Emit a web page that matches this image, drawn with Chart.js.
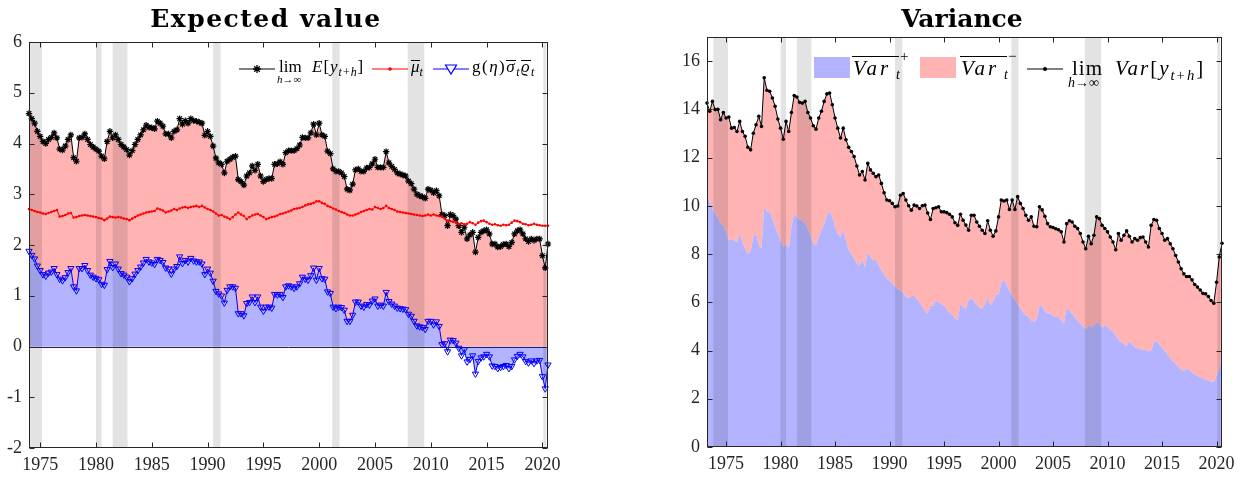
<!DOCTYPE html>
<html>
<head>
<meta charset="utf-8">
<title>Expected value and variance</title>
<script src="https://cdn.jsdelivr.net/npm/chart.js@4.4.1/dist/chart.umd.min.js"></script>
<style>
  body { margin: 0; background: #fff; }
  #wrap { position: relative; width: 1245px; height: 477px; overflow: hidden; font-family: 'Liberation Serif', 'Times New Roman', serif; color: #000; }
  canvas { position: absolute; top: 0; }
  .title { position: absolute; top: 6px; font-family: 'DejaVu Serif', serif; font-weight: bold; font-size: 25px; line-height: 1; transform: translateX(-50%); white-space: nowrap; }
  .t { position: absolute; white-space: nowrap; line-height: 1; }
  .t sub { font-size: 0.7em; vertical-align: -0.35em; line-height: 0; }
  .ob { display: inline-block; line-height: 0.55; border-top: 1px solid #000; padding-top: 1px; }
  .sym { position: absolute; overflow: visible; }
  .sw { position: absolute; width: 36px; height: 21px; top: 57px; }
  .ov { position: absolute; height: 1px; top: 56px; background: #000; }
</style>
</head>
<body>
<div id="wrap">
  <canvas id="leftChart" width="600" height="477" style="left:0"></canvas>
  <canvas id="rightChart" width="605" height="477" style="left:640px"></canvas>

  <div class="title" style="left:266px;letter-spacing:1.5px">Expected value</div>
  <div class="title" style="left:962px">Variance</div>

  <!-- legend, left panel -->
  <svg class="sym" style="left:239px;top:62px" width="36" height="14">
    <line x1="0" y1="7" x2="36" y2="7" stroke="#000" stroke-width="1"/>
    <path d="M18 3V11M14 7H22M15.2 4.2L20.8 9.8M20.8 4.2L15.2 9.8" stroke="#000" stroke-width="1.3"/>
  </svg>
  <div class="t" style="left:279px;top:58px;font-size:17px">lim</div>
  <div class="t" style="left:277px;top:74px;font-size:11px"><i>h</i>→∞</div>
  <div class="t" style="left:312px;top:58px;font-size:17px;letter-spacing:1px"><i>E</i>[<i>y</i><sub><i>t</i>+<i>h</i></sub>]</div>
  <svg class="sym" style="left:372px;top:62px" width="36" height="14">
    <line x1="0" y1="7" x2="36" y2="7" stroke="#f00" stroke-width="1"/>
    <circle cx="18" cy="7" r="1.8" fill="#f00"/>
  </svg>
  <div class="t" style="left:411px;top:58px;font-size:17px"><i class="ob">μ</i><sub><i>t</i></sub></div>
  <svg class="sym" style="left:433px;top:62px" width="36" height="14">
    <line x1="0" y1="7" x2="36" y2="7" stroke="#00f" stroke-width="1"/>
    <path d="M12.5 3L23.5 3L18 12Z" fill="#fff" stroke="#00f" stroke-width="1.2"/>
  </svg>
  <div class="t" style="left:472px;top:58px;font-size:17px;letter-spacing:1.5px">g(<i>η</i>)<i class="ob">σ</i><sub><i>t</i></sub><i class="ob">ϱ</i><sub><i>t</i></sub></div>

  <!-- legend, right panel -->
  <div class="sw" style="left:814px;background:#b3b3ff"></div>
  <div class="ov" style="left:852px;width:47px"></div>
  <div class="t" style="left:853px;top:58px;font-size:21px;letter-spacing:3px"><i>Var</i></div>
  <div class="t" style="left:896px;top:68px;font-size:14px"><i>t</i></div>
  <div class="t" style="left:900px;top:49px;font-size:15px">+</div>
  <div class="sw" style="left:920px;background:#ffb3b3"></div>
  <div class="ov" style="left:960px;width:47px"></div>
  <div class="t" style="left:961px;top:58px;font-size:21px;letter-spacing:3px"><i>Var</i></div>
  <div class="t" style="left:1004px;top:68px;font-size:14px"><i>t</i></div>
  <div class="t" style="left:1008px;top:49px;font-size:15px">−</div>
  <svg class="sym" style="left:1027px;top:62px" width="36" height="14">
    <line x1="0" y1="7" x2="36" y2="7" stroke="#000" stroke-width="1"/>
    <circle cx="18" cy="7" r="2" fill="#000"/>
  </svg>
  <div class="t" style="left:1072px;top:58px;font-size:21px;letter-spacing:1px">lim</div>
  <div class="t" style="left:1068px;top:76px;font-size:14px"><i>h</i>→∞</div>
  <div class="t" style="left:1115px;top:58px;font-size:21px;letter-spacing:2px"><i>Var</i>[<i>y</i><sub><i>t</i>+<i>h</i></sub>]</div>
</div>

<script>
const quarter = 0.25;
const leftStart = 1974;      // first quarter of the left panel
const rightStart = 1973.25;  // first quarter of the right panel

// NBER recessions (shaded)
const recessions = [
  [1973.83, 1975.17], [1980.0, 1980.5], [1981.5, 1982.83], [1990.5, 1991.17],
  [2001.17, 2001.83], [2007.92, 2009.42], [2020.08, 2020.33]
];

const yearTicks = [1975, 1980, 1985, 1990, 1995, 2000, 2005, 2010, 2015, 2020];
const leftYTicks = [-2, -1, 0, 1, 2, 3, 4, 5, 6];
const rightYTicks = [0, 2, 4, 6, 8, 10, 12, 14, 16];

// Expected value panel (quarterly, 1974Q1 - 2020Q3)
const leftLimE = [
  4.59, 4.49, 4.40, 4.24,  4.14, 4.04, 4.00, 4.08,  4.12, 4.21, 4.11, 3.89,  3.87, 3.95, 4.08, 4.17,
  3.72, 3.65, 4.11, 4.12,  4.19, 4.08, 3.98, 3.93,  3.89, 3.85, 3.75, 3.70,  4.04, 4.24, 4.11, 4.17,
  4.08, 3.98, 3.93, 3.88,  3.77, 3.86, 3.98, 4.08,  4.17, 4.27, 4.36, 4.32,  4.31, 4.29, 4.44, 4.40,
  4.34, 4.19, 4.19, 4.11,  4.24, 4.27, 4.49, 4.38,  4.45, 4.40, 4.49, 4.45,  4.44, 4.42, 4.40, 4.16,
  4.24, 4.14, 3.95, 3.71,  3.62, 3.59, 3.42, 3.65,  3.69, 3.73, 3.75, 3.29,  3.25, 3.18, 3.36, 3.42,
  3.56, 3.47, 3.59, 3.36,  3.25, 3.29, 3.31, 3.31,  3.59, 3.60, 3.64, 3.59,  3.82, 3.86, 3.86, 3.86,
  3.90, 3.97, 4.12, 4.11,  4.11, 4.21, 4.38, 4.17,  4.40, 4.17, 4.14, 3.85,  3.80, 3.50, 3.45, 3.45,
  3.42, 3.35, 3.10, 3.08,  3.20, 3.48, 3.50, 3.45,  3.45, 3.52, 3.53, 3.60,  3.69, 3.53, 3.53, 3.53,
  3.84, 3.62, 3.55, 3.49,  3.42, 3.40, 3.38, 3.36,  3.26, 3.21, 3.10, 3.00,  2.97, 2.95, 2.92, 3.10,
  3.08, 3.03, 3.07, 2.97,  2.60, 2.58, 2.38, 2.60,  2.58, 2.51, 2.38, 2.25,  2.35, 2.12, 2.20, 2.25,
  1.86, 2.15, 2.25, 2.28,  2.30, 2.22, 2.02, 2.02,  1.96, 1.97, 2.01, 2.02,  1.97, 2.05, 2.22, 2.28,
  2.30, 2.22, 2.12, 2.07,  2.12, 2.09, 2.12, 2.12,  1.79, 1.55, 2.02
];
const leftMuBar = [
  2.71, 2.69, 2.67, 2.65,  2.64, 2.62, 2.61, 2.63,  2.65, 2.67, 2.69, 2.56,  2.57, 2.59, 2.62, 2.63,
  2.54, 2.55, 2.57, 2.58,  2.59, 2.58, 2.57, 2.56,  2.55, 2.53, 2.52, 2.49,  2.52, 2.56, 2.55, 2.54,
  2.55, 2.54, 2.52, 2.51,  2.49, 2.52, 2.55, 2.58,  2.60, 2.62, 2.64, 2.65,  2.66, 2.67, 2.72, 2.70,
  2.68, 2.64, 2.66, 2.68,  2.71, 2.69, 2.72, 2.74,  2.75, 2.73, 2.75, 2.76,  2.77, 2.75, 2.77, 2.74,
  2.71, 2.69, 2.66, 2.62,  2.58, 2.59, 2.56, 2.54,  2.51, 2.55, 2.60, 2.64,  2.60, 2.57, 2.51, 2.55,
  2.58, 2.60, 2.61, 2.58,  2.55, 2.51, 2.53, 2.55,  2.56, 2.58, 2.61, 2.62,  2.64, 2.66, 2.68, 2.71,
  2.72, 2.73, 2.75, 2.78,  2.80, 2.81, 2.83, 2.86,  2.86, 2.83, 2.81, 2.77,  2.75, 2.72, 2.70, 2.67,
  2.65, 2.63, 2.60, 2.58,  2.58, 2.60, 2.62, 2.65,  2.67, 2.69, 2.71, 2.70,  2.75, 2.73, 2.71, 2.73,
  2.77, 2.73, 2.71, 2.69,  2.66, 2.65, 2.64, 2.63,  2.62, 2.61, 2.60, 2.59,  2.58, 2.57, 2.58, 2.60,
  2.58, 2.60, 2.58, 2.57,  2.56, 2.52, 2.48, 2.47,  2.46, 2.44, 2.41, 2.43,  2.41, 2.42, 2.45, 2.43,
  2.40, 2.44, 2.47, 2.48,  2.45, 2.42, 2.40, 2.41,  2.39, 2.38, 2.40, 2.39,  2.40, 2.44, 2.48, 2.47,
  2.45, 2.42, 2.41, 2.39,  2.40, 2.42, 2.40, 2.39,  2.38, 2.38, 2.38
];
const leftGSigmaRho = [
  1.88, 1.80, 1.73, 1.59,  1.50, 1.42, 1.39, 1.45,  1.47, 1.54, 1.42, 1.33,  1.30, 1.36, 1.46, 1.54,
  1.18, 1.10, 1.54, 1.54,  1.60, 1.50, 1.41, 1.37,  1.34, 1.32, 1.23, 1.21,  1.52, 1.68, 1.56, 1.63,
  1.53, 1.44, 1.41, 1.37,  1.28, 1.34, 1.43, 1.50,  1.57, 1.65, 1.72, 1.67,  1.65, 1.62, 1.72, 1.70,
  1.66, 1.55, 1.53, 1.43,  1.53, 1.58, 1.77, 1.64,  1.70, 1.67, 1.74, 1.69,  1.67, 1.67, 1.63, 1.42,
  1.53, 1.45, 1.29, 1.09,  1.04, 1.00, 0.86, 1.11,  1.18, 1.18, 1.15, 0.65,  0.65, 0.61, 0.85, 0.87,
  0.98, 0.87, 0.98, 0.78,  0.70, 0.78, 0.78, 0.76,  1.03, 1.02, 1.03, 0.97,  1.18, 1.20, 1.18, 1.15,
  1.18, 1.24, 1.37, 1.33,  1.31, 1.40, 1.55, 1.31,  1.54, 1.34, 1.33, 1.08,  1.05, 0.78, 0.75, 0.78,
  0.77, 0.72, 0.50, 0.50,  0.62, 0.88, 0.88, 0.80,  0.78, 0.83, 0.82, 0.90,  0.94, 0.80, 0.82, 0.80,
  1.07, 0.89, 0.84, 0.80,  0.76, 0.75, 0.74, 0.73,  0.64, 0.60, 0.50, 0.41,  0.39, 0.38, 0.34, 0.50,
  0.50, 0.43, 0.49, 0.40,  0.04, 0.06, -0.10, 0.13,  0.12, 0.07, -0.03, -0.18,  -0.06, -0.30, -0.25, -0.18,
  -0.54, -0.29, -0.22, -0.20,  -0.15, -0.20, -0.38, -0.39,  -0.43, -0.41, -0.39, -0.37,  -0.43, -0.39, -0.26, -0.19,
  -0.15, -0.20, -0.29, -0.32,  -0.28, -0.33, -0.28, -0.27,  -0.59, -0.83, -0.36
];

// Variance panel (quarterly, 1973Q2 - 2020Q3)
const rightVarPlus = [
  10.44, 10.15, 9.89,
  9.68, 9.50, 9.26, 9.19,  8.92, 8.57, 8.60, 8.55,  8.50, 8.85, 8.50, 8.22,  8.01, 8.10, 8.71, 8.85,
  8.40, 8.22, 9.96, 9.75,  9.75, 9.47, 9.13, 8.85,  8.57, 8.29, 8.43, 8.22,  9.13, 9.68, 9.54, 9.43,
  9.40, 9.26, 9.06, 8.78,  8.43, 8.36, 8.71, 8.99,  9.26, 9.61, 9.79, 9.54,  9.13, 8.85, 8.71, 8.99,
  8.57, 8.15, 8.01, 7.81,  7.60, 7.53, 7.74, 7.46,  8.12, 7.88, 7.74, 7.76,  7.55, 7.35, 7.15, 6.97,
  6.90, 6.80, 6.65, 6.55,  6.49, 6.40, 6.22, 6.18,  6.25, 6.27, 6.15, 6.00,  5.80, 5.65, 5.51, 5.86,
  5.86, 6.07, 6.00, 5.93,  5.86, 5.72, 5.56, 5.48,  5.35, 5.26, 5.93, 5.79,  5.72, 6.10, 6.16, 6.05,
  5.90, 5.78, 5.72, 5.93,  6.20, 5.88, 6.00, 6.35,  6.30, 6.80, 6.95, 6.70,  6.49, 6.25, 6.10, 5.95,
  5.75, 5.58, 5.45, 5.40,  5.25, 5.19, 5.30, 5.86,  5.84, 5.63, 5.54, 5.52,  5.45, 5.38, 5.40, 5.24,
  5.10, 5.79, 5.65, 5.54,  5.38, 5.24, 5.12, 5.00,  4.89, 5.03, 4.96, 5.03,  5.17, 5.12, 4.96, 5.03,
  5.00, 4.85, 4.79, 4.61,  4.47, 4.33, 4.26, 4.19,  4.40, 4.26, 4.13, 4.10,  4.06, 4.03, 4.01, 3.96,
  3.99, 4.33, 4.40, 4.24,  4.13, 3.99, 3.85, 3.68,  3.55, 3.45, 3.32, 3.20,  3.15, 3.25, 3.20, 3.10,
  3.00, 2.95, 2.90, 2.85,  2.80, 2.75, 2.72, 2.70,  2.95, 3.25, 3.80
];
const rightLimVar = [
  14.26, 13.92, 14.33,
  13.99, 14.00, 13.57, 13.87,  13.64, 13.68, 13.22, 13.25,  13.08, 13.50, 13.08, 12.88,  12.43, 12.32, 13.01, 13.36,
  13.71, 13.29, 15.31, 14.79,  14.75, 14.47, 14.13, 13.60,  13.22, 12.76, 13.50, 13.08,  13.87, 14.57, 14.51, 14.29,
  14.26, 14.33, 13.87, 13.64,  13.32, 13.18, 13.64, 13.92,  14.33, 14.64, 14.68, 14.19,  13.64, 13.22, 12.81, 13.22,
  12.74, 12.43, 12.25, 12.04,  11.65, 11.28, 11.42, 11.07,  11.76, 11.49, 11.35, 11.21,  11.28, 10.93, 10.54, 10.24,
  10.21, 10.10, 9.96, 9.99,  10.44, 10.51, 10.24, 10.00,  9.82, 10.03, 9.99, 9.89,  10.00, 10.03, 9.70, 9.43,
  9.89, 9.92, 9.96, 9.75,  9.75, 9.72, 9.65, 9.54,  9.30, 9.19, 9.65, 9.40,  9.20, 8.99, 9.61, 9.61,
  9.33, 9.15, 8.99, 8.85,  9.38, 8.99, 8.74, 8.96,  9.54, 10.24, 10.20, 10.24,  9.85, 10.24, 9.85, 10.38,
  10.10, 9.89, 9.61, 9.40,  9.54, 9.15, 9.13, 9.96,  9.83, 9.57, 9.26, 9.13,  9.10, 9.05, 9.01, 8.92,
  8.50, 9.26, 9.38, 9.33,  9.15, 9.06, 8.85, 8.50,  8.22, 8.74, 8.43, 8.78,  9.54, 9.47, 9.19, 9.06,
  8.92, 8.71, 8.50, 8.18,  8.85, 8.57, 8.78, 8.96,  8.74, 8.50, 8.64, 8.57,  8.68, 8.71, 8.50, 8.29,
  9.19, 9.43, 9.40, 9.06,  8.85, 8.57, 8.64, 8.43,  8.22, 7.94, 7.67, 7.39,  7.18, 7.07, 7.07, 6.93,
  6.74, 6.63, 6.51, 6.37,  6.35, 6.24, 6.07, 5.96,  6.83, 7.88, 8.45
];

const toXY = (vals, start) => vals.map((v, i) => ({ x: start + i * quarter, y: v }));
const lastX = (vals, start) => start + (vals.length - 1) * quarter;

const axisColor = '#262626';
const tickFont = { family: "'Liberation Serif', 'Times New Roman', serif", size: 18 };

// recession shading, zero line, box and inward ticks (MATLAB look)
const framePlugin = {
  id: 'frame',
  beforeDatasetsDraw(chart, args, opts) {
    const { ctx, chartArea: a, scales: { x, y } } = chart;
    ctx.save();
    ctx.beginPath();
    ctx.rect(a.left, a.top, a.right - a.left, a.bottom - a.top);
    ctx.clip();
    ctx.fillStyle = 'rgba(0,0,0,0.11)';
    recessions.forEach(([s, e]) => {
      const x0 = x.getPixelForValue(s);
      const x1 = x.getPixelForValue(e);
      ctx.fillRect(x0, a.top, x1 - x0, a.bottom - a.top);
    });
    if (opts.zeroLine) {
      const y0 = Math.round(y.getPixelForValue(0)) + 0.5;
      ctx.strokeStyle = '#20205a';
      ctx.lineWidth = 1;
      ctx.beginPath();
      ctx.moveTo(a.left, y0);
      ctx.lineTo(a.right, y0);
      ctx.stroke();
    }
    ctx.restore();
  },
  afterDraw(chart) {
    const { ctx, chartArea: a, scales: { x, y } } = chart;
    const L = Math.round(a.left) + 0.5, R = Math.round(a.right) - 0.5;
    const T = Math.round(a.top) + 0.5, B = Math.round(a.bottom) - 0.5;
    ctx.save();
    ctx.strokeStyle = axisColor;
    ctx.lineWidth = 1;
    ctx.strokeRect(L, T, R - L, B - T);
    ctx.beginPath();
    x.ticks.forEach(t => {
      const px = Math.round(x.getPixelForValue(t.value)) + 0.5;
      ctx.moveTo(px, B); ctx.lineTo(px, B - 5);
      ctx.moveTo(px, T); ctx.lineTo(px, T + 5);
    });
    y.ticks.forEach(t => {
      const py = Math.round(y.getPixelForValue(t.value)) + 0.5;
      ctx.moveTo(L, py); ctx.lineTo(L + 5, py);
      ctx.moveTo(R, py); ctx.lineTo(R - 5, py);
    });
    ctx.stroke();
    ctx.restore();
  }
};

function xScale(min, max, height) {
  return {
    type: 'linear', min, max,
    grid: { display: false, drawTicks: false },
    border: { display: false },
    afterBuildTicks: s => { s.ticks = yearTicks.map(v => ({ value: v })); },
    ticks: { font: tickFont, color: axisColor, padding: 6, maxRotation: 0, autoSkip: false, callback: v => String(v) },
    afterFit: s => { s.height = height; }
  };
}

function yScale(min, max, ticks, width) {
  return {
    type: 'linear', min, max,
    grid: { display: false, drawTicks: false },
    border: { display: false },
    afterBuildTicks: s => { s.ticks = ticks.map(v => ({ value: v })); },
    ticks: { font: tickFont, color: axisColor, padding: 7, autoSkip: false, callback: v => String(v) },
    afterFit: s => { s.width = width; }
  };
}

function baseOptions(padding) {
  return {
    responsive: false,
    animation: false,
    devicePixelRatio: 1,
    events: [],
    layout: { padding },
    elements: { line: { tension: 0 } },
    plugins: {
      legend: { display: false },
      tooltip: { enabled: false },
      filler: { drawTime: 'beforeDatasetsDraw' }
    }
  };
}

// Expected value
const leftOptions = baseOptions({ left: 0, right: 52, top: 42, bottom: 0 });
leftOptions.plugins.frame = { zeroLine: true };
leftOptions.scales = {
  x: xScale(leftStart, lastX(leftLimE, leftStart), 29),
  y: yScale(-2, 6, leftYTicks, 29)
};
new Chart(document.getElementById('leftChart'), {
  type: 'line',
  data: {
    datasets: [
      {
        label: 'g(eta) sigma rho',
        data: toXY(leftGSigmaRho, leftStart),
        borderColor: '#0000ff', borderWidth: 1,
        backgroundColor: '#b3b3ff', fill: 'origin',
        pointStyle: 'triangle', pointRotation: 180, pointRadius: 3.6,
        pointBorderColor: '#0000ff', pointBackgroundColor: 'rgba(0,0,255,0)', pointBorderWidth: 1,
        clip: false
      },
      {
        label: 'mu bar',
        data: toXY(leftMuBar, leftStart),
        borderColor: '#ff0000', borderWidth: 1, fill: false,
        pointStyle: 'circle', pointRadius: 1.3,
        pointBackgroundColor: '#ff0000', pointBorderWidth: 0,
        clip: false
      },
      {
        label: 'lim E',
        data: toXY(leftLimE, leftStart),
        borderColor: '#000000', borderWidth: 1,
        backgroundColor: '#ffb3b3', fill: 'origin',
        pointStyle: 'star', pointRadius: 3.2,
        pointBorderColor: '#000000', pointBorderWidth: 1.2,
        clip: false
      }
    ]
  },
  options: leftOptions,
  plugins: [framePlugin]
});

// Variance
const rightOptions = baseOptions({ left: 0, right: 23, top: 37, bottom: 0 });
rightOptions.plugins.frame = { zeroLine: false };
rightOptions.scales = {
  x: xScale(rightStart, lastX(rightLimVar, rightStart), 30),
  y: yScale(0, 17, rightYTicks, 67)
};
new Chart(document.getElementById('rightChart'), {
  type: 'line',
  data: {
    datasets: [
      {
        label: 'Var plus',
        data: toXY(rightVarPlus, rightStart),
        borderColor: 'rgba(0,0,0,0)', borderWidth: 0, pointRadius: 0,
        backgroundColor: '#b3b3ff', fill: 'origin'
      },
      {
        label: 'lim Var',
        data: toXY(rightLimVar, rightStart),
        borderColor: '#000000', borderWidth: 1,
        backgroundColor: '#ffb3b3', fill: '-1',
        pointStyle: 'circle', pointRadius: 1.8,
        pointBackgroundColor: '#000000', pointBorderWidth: 0,
        clip: false
      }
    ]
  },
  options: rightOptions,
  plugins: [framePlugin]
});
</script>
</body>
</html>
